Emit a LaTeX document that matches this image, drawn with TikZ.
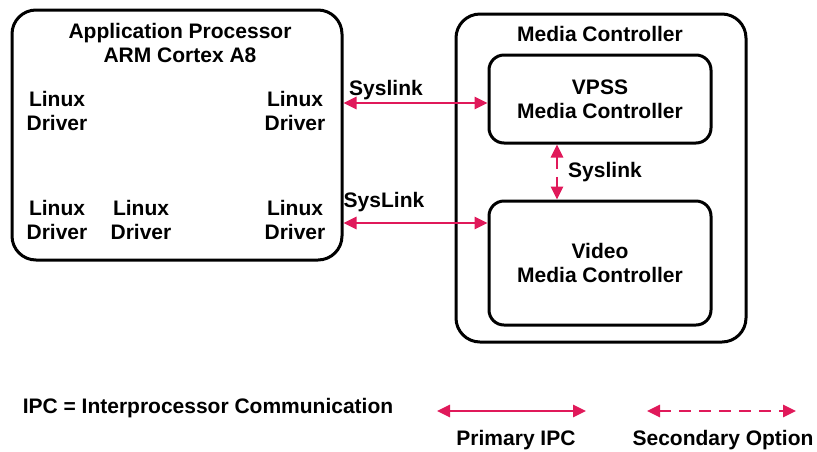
\documentclass[tikz,border=0pt]{standalone}
\usepackage{fontspec}
\setmainfont{Liberation Sans}
\usepackage{tikz}
\usetikzlibrary{arrows.meta}
\definecolor{ipcred}{HTML}{E0195A}

\begin{document}
\begin{tikzpicture}[x=1pt, y=-1pt,
        txt/.style={font=\bfseries\fontsize{21}{24}\selectfont, align=center, inner sep=0pt},
        box/.style={draw, line width=3pt, rounded corners=24pt},
        inbox/.style={draw, line width=3pt, rounded corners=15pt},
        ipc/.style={ipcred, line width=2.6pt, {Triangle[length=13pt,width=12pt]}-{Triangle[length=13pt,width=12pt]}},
        sec/.style={ipc, dash pattern=on 12pt off 8pt}]
        \useasboundingbox (0,0) rectangle (817,451);
        % application processor
        \node[box, minimum width=330pt, minimum height=250pt] (app) at (177,135) {};
        \node[txt] (apptitle) at (180,43) {Application Processor\\ARM Cortex A8};
        \node[txt] (drv1) at (57,111) {Linux\\Driver};
        \node[txt] (drv2) at (295,111) {Linux\\Driver};
        \node[txt] (drv3) at (57,220) {Linux\\Driver};
        \node[txt] (drv4) at (141,220) {Linux\\Driver};
        \node[txt] (drv5) at (295,220) {Linux\\Driver};
        % media controller
        \node[box, minimum width=290pt, minimum height=328pt] (media) at (601,178) {};
        \node[txt] (mediatitle) at (600,34) {Media Controller};
        \node[inbox, minimum width=222pt, minimum height=88pt] (vpss) at (600,99) {};
        \node[txt] at (vpss) {VPSS\\Media Controller};
        \node[inbox, minimum width=222pt, minimum height=124pt] (video) at (600,263) {};
        \node[txt] at (video) {Video\\Media Controller};
        % links
        \draw[ipc] (app.east |- 0,103) -- (vpss.west |- 0,103);
        \node[txt] (lnk1) at (386,90) {Syslink};
        \draw[ipc] (app.east |- 0,223) -- (video.west |- 0,223);
        \node[txt] (lnk2) at (384,202) {SysLink};
        \draw[sec] (vpss.south -| 557,0) -- (video.north -| 557,0);
        \node[txt] (lnk3) at (605,172) {Syslink};
        % legend
        \node[txt] (ipcnote) at (208,408) {IPC = Interprocessor Communication};
        \coordinate (pa) at (437,411);
        \coordinate (pb) at (586,411);
        \coordinate (sa) at (647,411);
        \coordinate (sb) at (796,411);
        \draw[ipc] (pa) -- (pb);
        \draw[sec] (sa) -- (sb);
        \node[txt] (prim) at (516,440) {Primary IPC};
        \node[txt] (secopt) at (723,440) {Secondary Option};
    \end{tikzpicture}
\end{document}
